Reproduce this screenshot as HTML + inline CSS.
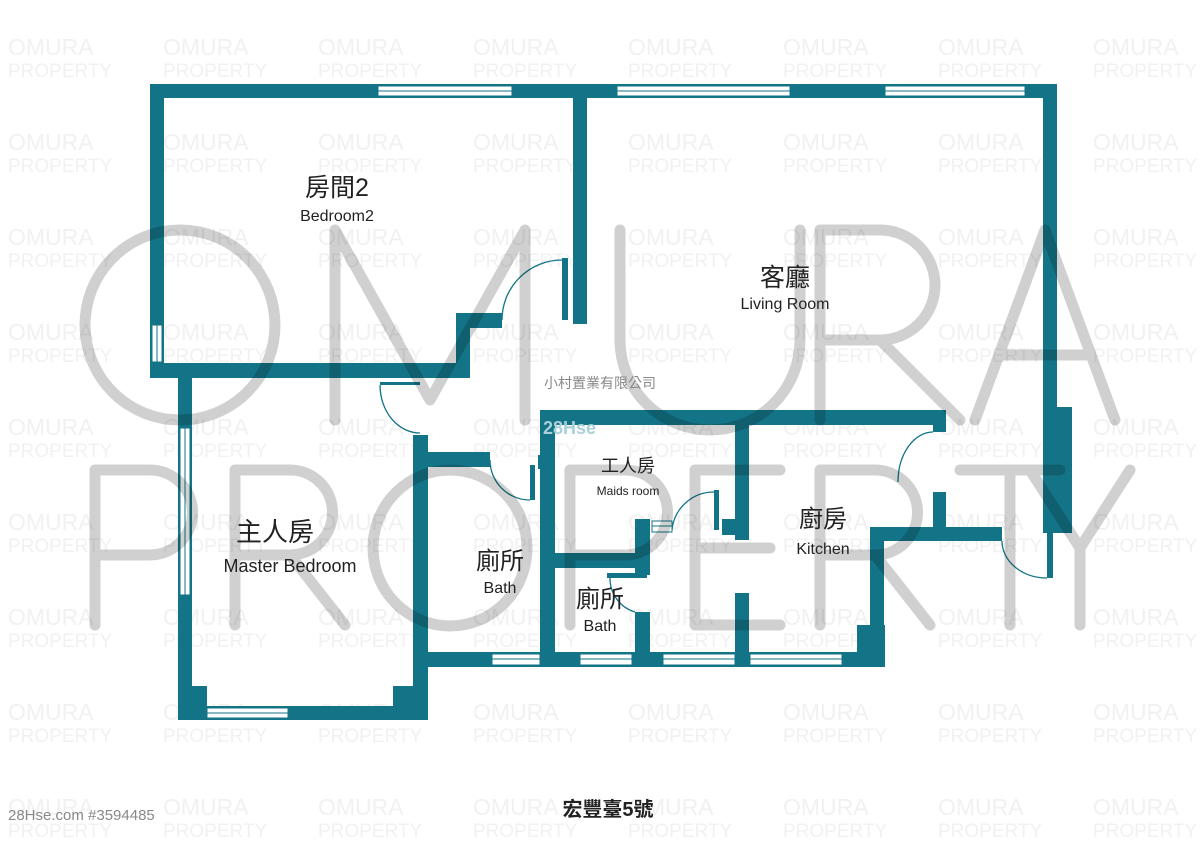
<!DOCTYPE html><html><head><meta charset="utf-8"><style>
body{margin:0;background:#fff}
svg{display:block}
text{font-family:"Liberation Sans","Noto Sans CJK TC",sans-serif}
</style></head><body>
<svg width="1200" height="848" viewBox="0 0 1200 848" xmlns="http://www.w3.org/2000/svg">
<g fill="#f1f1f1" font-size="23">
<text x="8" y="55">OMURA</text><text x="163" y="55">OMURA</text><text x="318" y="55">OMURA</text><text x="473" y="55">OMURA</text><text x="628" y="55">OMURA</text><text x="783" y="55">OMURA</text><text x="938" y="55">OMURA</text><text x="1093" y="55">OMURA</text>
<text x="8" y="150">OMURA</text><text x="163" y="150">OMURA</text><text x="318" y="150">OMURA</text><text x="473" y="150">OMURA</text><text x="628" y="150">OMURA</text><text x="783" y="150">OMURA</text><text x="938" y="150">OMURA</text><text x="1093" y="150">OMURA</text>
<text x="8" y="245">OMURA</text><text x="163" y="245">OMURA</text><text x="318" y="245">OMURA</text><text x="473" y="245">OMURA</text><text x="628" y="245">OMURA</text><text x="783" y="245">OMURA</text><text x="938" y="245">OMURA</text><text x="1093" y="245">OMURA</text>
<text x="8" y="340">OMURA</text><text x="163" y="340">OMURA</text><text x="318" y="340">OMURA</text><text x="473" y="340">OMURA</text><text x="628" y="340">OMURA</text><text x="783" y="340">OMURA</text><text x="938" y="340">OMURA</text><text x="1093" y="340">OMURA</text>
<text x="8" y="435">OMURA</text><text x="163" y="435">OMURA</text><text x="318" y="435">OMURA</text><text x="473" y="435">OMURA</text><text x="628" y="435">OMURA</text><text x="783" y="435">OMURA</text><text x="938" y="435">OMURA</text><text x="1093" y="435">OMURA</text>
<text x="8" y="530">OMURA</text><text x="163" y="530">OMURA</text><text x="318" y="530">OMURA</text><text x="473" y="530">OMURA</text><text x="628" y="530">OMURA</text><text x="783" y="530">OMURA</text><text x="938" y="530">OMURA</text><text x="1093" y="530">OMURA</text>
<text x="8" y="625">OMURA</text><text x="163" y="625">OMURA</text><text x="318" y="625">OMURA</text><text x="473" y="625">OMURA</text><text x="628" y="625">OMURA</text><text x="783" y="625">OMURA</text><text x="938" y="625">OMURA</text><text x="1093" y="625">OMURA</text>
<text x="8" y="720">OMURA</text><text x="163" y="720">OMURA</text><text x="318" y="720">OMURA</text><text x="473" y="720">OMURA</text><text x="628" y="720">OMURA</text><text x="783" y="720">OMURA</text><text x="938" y="720">OMURA</text><text x="1093" y="720">OMURA</text>
<text x="8" y="815">OMURA</text><text x="163" y="815">OMURA</text><text x="318" y="815">OMURA</text><text x="473" y="815">OMURA</text><text x="628" y="815">OMURA</text><text x="783" y="815">OMURA</text><text x="938" y="815">OMURA</text><text x="1093" y="815">OMURA</text>
</g>
<g fill="#f1f1f1" font-size="19">
<text x="8" y="77">PROPERTY</text><text x="163" y="77">PROPERTY</text><text x="318" y="77">PROPERTY</text><text x="473" y="77">PROPERTY</text><text x="628" y="77">PROPERTY</text><text x="783" y="77">PROPERTY</text><text x="938" y="77">PROPERTY</text><text x="1093" y="77">PROPERTY</text>
<text x="8" y="172">PROPERTY</text><text x="163" y="172">PROPERTY</text><text x="318" y="172">PROPERTY</text><text x="473" y="172">PROPERTY</text><text x="628" y="172">PROPERTY</text><text x="783" y="172">PROPERTY</text><text x="938" y="172">PROPERTY</text><text x="1093" y="172">PROPERTY</text>
<text x="8" y="267">PROPERTY</text><text x="163" y="267">PROPERTY</text><text x="318" y="267">PROPERTY</text><text x="473" y="267">PROPERTY</text><text x="628" y="267">PROPERTY</text><text x="783" y="267">PROPERTY</text><text x="938" y="267">PROPERTY</text><text x="1093" y="267">PROPERTY</text>
<text x="8" y="362">PROPERTY</text><text x="163" y="362">PROPERTY</text><text x="318" y="362">PROPERTY</text><text x="473" y="362">PROPERTY</text><text x="628" y="362">PROPERTY</text><text x="783" y="362">PROPERTY</text><text x="938" y="362">PROPERTY</text><text x="1093" y="362">PROPERTY</text>
<text x="8" y="457">PROPERTY</text><text x="163" y="457">PROPERTY</text><text x="318" y="457">PROPERTY</text><text x="473" y="457">PROPERTY</text><text x="628" y="457">PROPERTY</text><text x="783" y="457">PROPERTY</text><text x="938" y="457">PROPERTY</text><text x="1093" y="457">PROPERTY</text>
<text x="8" y="552">PROPERTY</text><text x="163" y="552">PROPERTY</text><text x="318" y="552">PROPERTY</text><text x="473" y="552">PROPERTY</text><text x="628" y="552">PROPERTY</text><text x="783" y="552">PROPERTY</text><text x="938" y="552">PROPERTY</text><text x="1093" y="552">PROPERTY</text>
<text x="8" y="647">PROPERTY</text><text x="163" y="647">PROPERTY</text><text x="318" y="647">PROPERTY</text><text x="473" y="647">PROPERTY</text><text x="628" y="647">PROPERTY</text><text x="783" y="647">PROPERTY</text><text x="938" y="647">PROPERTY</text><text x="1093" y="647">PROPERTY</text>
<text x="8" y="742">PROPERTY</text><text x="163" y="742">PROPERTY</text><text x="318" y="742">PROPERTY</text><text x="473" y="742">PROPERTY</text><text x="628" y="742">PROPERTY</text><text x="783" y="742">PROPERTY</text><text x="938" y="742">PROPERTY</text><text x="1093" y="742">PROPERTY</text>
<text x="8" y="837">PROPERTY</text><text x="163" y="837">PROPERTY</text><text x="318" y="837">PROPERTY</text><text x="473" y="837">PROPERTY</text><text x="628" y="837">PROPERTY</text><text x="783" y="837">PROPERTY</text><text x="938" y="837">PROPERTY</text><text x="1093" y="837">PROPERTY</text>
</g>

<g fill="#137487">
<rect x="150" y="84" width="907" height="14"/>
<rect x="150" y="84" width="14" height="294"/>
<rect x="150" y="363" width="320" height="15"/>
<rect x="456" y="313" width="14" height="65"/>
<rect x="456" y="313" width="46" height="15"/>
<rect x="573" y="84" width="14" height="240"/>
<rect x="562" y="258" width="6" height="62"/>
<rect x="1043" y="84" width="14" height="326"/>
<rect x="1043" y="407" width="29" height="126"/>
<rect x="1047" y="533" width="6" height="45"/>
<rect x="540" y="410" width="406" height="15"/>
<rect x="933" y="410" width="13" height="22"/>
<rect x="933" y="492" width="13" height="45"/>
<rect x="870" y="527" width="132" height="14"/>
<rect x="870" y="527" width="14" height="138"/>
<rect x="857" y="625" width="28" height="40"/>
<rect x="415" y="652" width="470" height="15"/>
<rect x="735" y="410" width="14" height="130"/>
<rect x="722" y="519" width="15" height="16"/>
<rect x="714" y="490" width="5" height="40"/>
<rect x="735" y="593" width="14" height="74"/>
<rect x="540" y="410" width="15" height="257"/>
<rect x="540" y="553" width="108" height="15"/>
<rect x="635" y="519" width="15" height="56"/>
<rect x="607" y="573" width="40" height="5"/>
<rect x="635" y="612" width="15" height="55"/>
<rect x="415" y="452" width="75" height="15"/>
<rect x="530" y="465" width="5" height="35"/>
<rect x="538" y="455" width="10" height="14"/>
<rect x="178" y="363" width="14" height="357"/>
<rect x="178" y="706" width="250" height="14"/>
<rect x="192" y="686" width="15" height="20"/>
<rect x="393" y="686" width="20" height="20"/>
<rect x="413" y="435" width="15" height="285"/>
<rect x="380" y="382" width="40" height="3"/>
</g>
<g fill="#fff" stroke="#137487" stroke-width="1">
<rect x="378" y="86" width="134" height="10"/><line x1="378" y1="91" x2="512" y2="91"/>
<rect x="617" y="86" width="173" height="10"/><line x1="617" y1="91" x2="790" y2="91"/>
<rect x="885" y="86" width="140" height="10"/><line x1="885" y1="91" x2="1025" y2="91"/>
<rect x="152" y="325" width="10" height="37"/><line x1="157" y1="325" x2="157" y2="362"/>
<rect x="180" y="428" width="10" height="167"/><line x1="185" y1="428" x2="185" y2="595"/>
<rect x="207" y="708" width="81" height="10"/><line x1="207" y1="713" x2="288" y2="713"/>
<rect x="492" y="654" width="48" height="11"/><line x1="492" y1="659" x2="540" y2="659"/>
<rect x="580" y="654" width="52" height="11"/><line x1="580" y1="659" x2="632" y2="659"/>
<rect x="663" y="654" width="72" height="11"/><line x1="663" y1="659" x2="735" y2="659"/>
<rect x="750" y="654" width="92" height="11"/><line x1="750" y1="659" x2="842" y2="659"/>
<rect x="652" y="521" width="20" height="11"/><line x1="652" y1="526" x2="672" y2="526"/>
</g>
<g fill="none" stroke="#137487" stroke-width="1.3">
<path d="M502 320 A60 60 0 0 1 562 260"/>
<path d="M380 385 A40 48 0 0 0 420 433"/>
<path d="M490 460 A40 40 0 0 0 530 500"/>
<path d="M672 530 A42 42 0 0 1 714 492"/>
<path d="M933 432 A35 50 0 0 0 898 482"/>
<path d="M1002 541 A45 37 0 0 0 1047 578"/>
<path d="M610 578 A35 35 0 0 0 635 612"/>
</g>

<g fill="none" stroke="#d0d0d0" stroke-width="11" stroke-linecap="round" stroke-linejoin="round" style="mix-blend-mode:multiply">
<ellipse cx="180" cy="325" rx="95" ry="95"/>
<path d="M335 420 L335 230 L430 400 L525 230 L525 420"/>
<path d="M620 230 L620 340 A90 90 0 0 0 800 340 L800 230"/>
<path d="M820 420 L820 230 L880 230 A55 55 0 0 1 880 340 L820 340 M880 340 L960 420"/>
<path d="M975 420 L1045 230 L1115 420 M1000 355 L1090 355"/>
<path d="M95 625 L95 470 L150 470 A42 42 0 0 1 150 555 L95 555"/>
<path d="M235 625 L235 470 L290 470 A42 42 0 0 1 290 555 L235 555 M290 555 L345 625"/>
<ellipse cx="450" cy="548" rx="77" ry="78"/>
<path d="M570 625 L570 470 L625 470 A42 42 0 0 1 625 555 L570 555"/>
<path d="M780 470 L695 470 L695 625 L780 625 M695 548 L770 548"/>
<path d="M820 625 L820 470 L875 470 A42 42 0 0 1 875 555 L820 555 M875 555 L930 625"/>
<path d="M960 470 L1060 470 M1010 470 L1010 625"/>
<path d="M1030 470 L1080 548 L1130 470 M1080 548 L1080 625"/>
</g>

<g fill="#222" text-anchor="middle">
<text x="337" y="196" font-size="25">房間2</text>
<text x="337" y="221" font-size="16">Bedroom2</text>
<text x="785" y="286" font-size="25">客廳</text>
<text x="785" y="309" font-size="16">Living Room</text>
<text x="275" y="541" font-size="26">主人房</text>
<text x="290" y="572" font-size="18">Master Bedroom</text>
<text x="500" y="569" font-size="24">廁所</text>
<text x="500" y="593" font-size="16">Bath</text>
<text x="628" y="472" font-size="18">工人房</text>
<text x="628" y="495" font-size="12">Maids room</text>
<text x="823" y="527" font-size="24">廚房</text>
<text x="823" y="554" font-size="16">Kitchen</text>
<text x="600" y="607" font-size="24">廁所</text>
<text x="600" y="631" font-size="16">Bath</text>
<text x="608" y="816" font-size="20" font-weight="bold">宏豐臺5號</text>
</g>
<text x="600" y="388" font-size="14" fill="#888" text-anchor="middle">小村置業有限公司</text>
<text x="543" y="434" font-size="18" font-weight="bold" fill="#a9d0d8">28Hse</text>
<text x="8" y="820" font-size="15" fill="#888">28Hse.com #3594485</text>
</svg>
</body></html>
